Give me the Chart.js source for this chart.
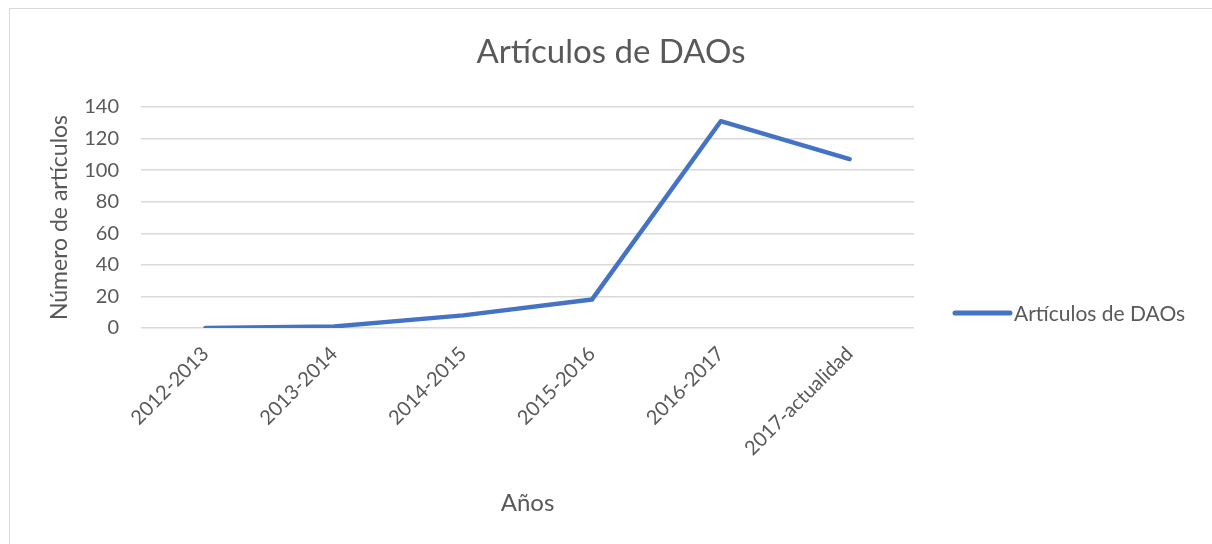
<!DOCTYPE html>
<html>
<head>
<meta charset="utf-8">
<script src="https://cdn.jsdelivr.net/npm/chart.js@4.4.1/dist/chart.umd.min.js"></script>
<style>
  html, body { margin: 0; padding: 0; background: #fff; }
  #wrap { position: relative; width: 1212px; height: 544px; overflow: hidden; }
  #frame { position: absolute; left: 9px; top: 8px; width: 1220px; height: 560px;
           border: 1px solid #d9d9d9; box-sizing: border-box; }
  #c { position: absolute; left: 0; top: 0; }
</style>
</head>
<body>
<div id="wrap">
  <div id="frame"></div>
  <canvas id="c" width="1212" height="544"></canvas>
</div>
<script>
// Años / artículos publicados por periodo
const periods  = ["2012-2013", "2013-2014", "2014-2015", "2015-2016", "2016-2017", "2017-actualidad"];
const articles = [0, 1, 8, 18, 131, 107];
const yTicks   = [0, 20, 40, 60, 80, 100, 120, 140];

const chartTitle = "Artículos de DAOs";
const seriesName = "Artículos de DAOs";
const lineColor  = "#4472c4";
const textColor  = "#595959";
const fontFamily = "Lato, 'Open Sans', sans-serif";

// title centred on the whole frame, legend to the right of the plot
const frameText = {
  id: "frameText",
  afterDraw(chart) {
    const { ctx, chartArea } = chart;
    ctx.save();
    ctx.fillStyle = textColor;
    ctx.font = "33px " + fontFamily;
    ctx.textAlign = "center";
    ctx.textBaseline = "alphabetic";
    ctx.fillText(chartTitle, 611, 63);

    const y = 313;
    const x0 = chartArea.right + 41;
    ctx.strokeStyle = lineColor;
    ctx.lineWidth = 5;
    ctx.lineCap = "round";
    ctx.beginPath();
    ctx.moveTo(x0, y);
    ctx.lineTo(x0 + 55, y);
    ctx.stroke();
    ctx.font = "21px " + fontFamily;
    ctx.textAlign = "left";
    ctx.textBaseline = "middle";
    ctx.fillText(seriesName, x0 + 59, y + 1);
    ctx.restore();
  }
};

new Chart(document.getElementById("c"), {
  type: "line",
  data: {
    labels: periods,
    datasets: [{
      label: seriesName,
      data: articles,
      borderColor: lineColor,
      backgroundColor: lineColor,
      borderWidth: 4.5,
      pointRadius: 0,
      tension: 0,
      borderCapStyle: "round",
      borderJoinStyle: "round"
    }]
  },
  options: {
    responsive: false,
    animation: false,
    layout: { padding: { left: 42, right: 298, top: 107, bottom: 22 } },
    plugins: {
      legend: { display: false },
      tooltip: { enabled: false },
      title: { display: false }
    },
    scales: {
      x: {
        offset: true,
        grid: { display: false },
        border: { display: false },
        ticks: {
          color: textColor,
          font: { family: fontFamily, size: 20 },
          minRotation: 45,
          maxRotation: 45,
          padding: 6
        },
        title: {
          display: true,
          text: "Años",
          color: textColor,
          font: { family: fontFamily, size: 24 },
          padding: { top: 4, bottom: 4 }
        },
        afterFit: s => { s.height = 194; }
      },
      y: {
        min: 0,
        max: 140,
        afterBuildTicks: s => { s.ticks = yTicks.map(v => ({ value: v })); },
        grid: { color: "#d9d9d9", lineWidth: 1.5, drawTicks: false },
        border: { display: false },
        ticks: {
          color: textColor,
          font: { family: fontFamily, size: 20 },
          padding: 22
        },
        title: {
          display: true,
          text: "Número de artículos",
          color: textColor,
          font: { family: fontFamily, size: 23 },
          padding: { top: 4, bottom: 4 }
        },
        afterFit: s => { s.width = 99; }
      }
    }
  },
  plugins: [frameText]
});
</script>
</body>
</html>
